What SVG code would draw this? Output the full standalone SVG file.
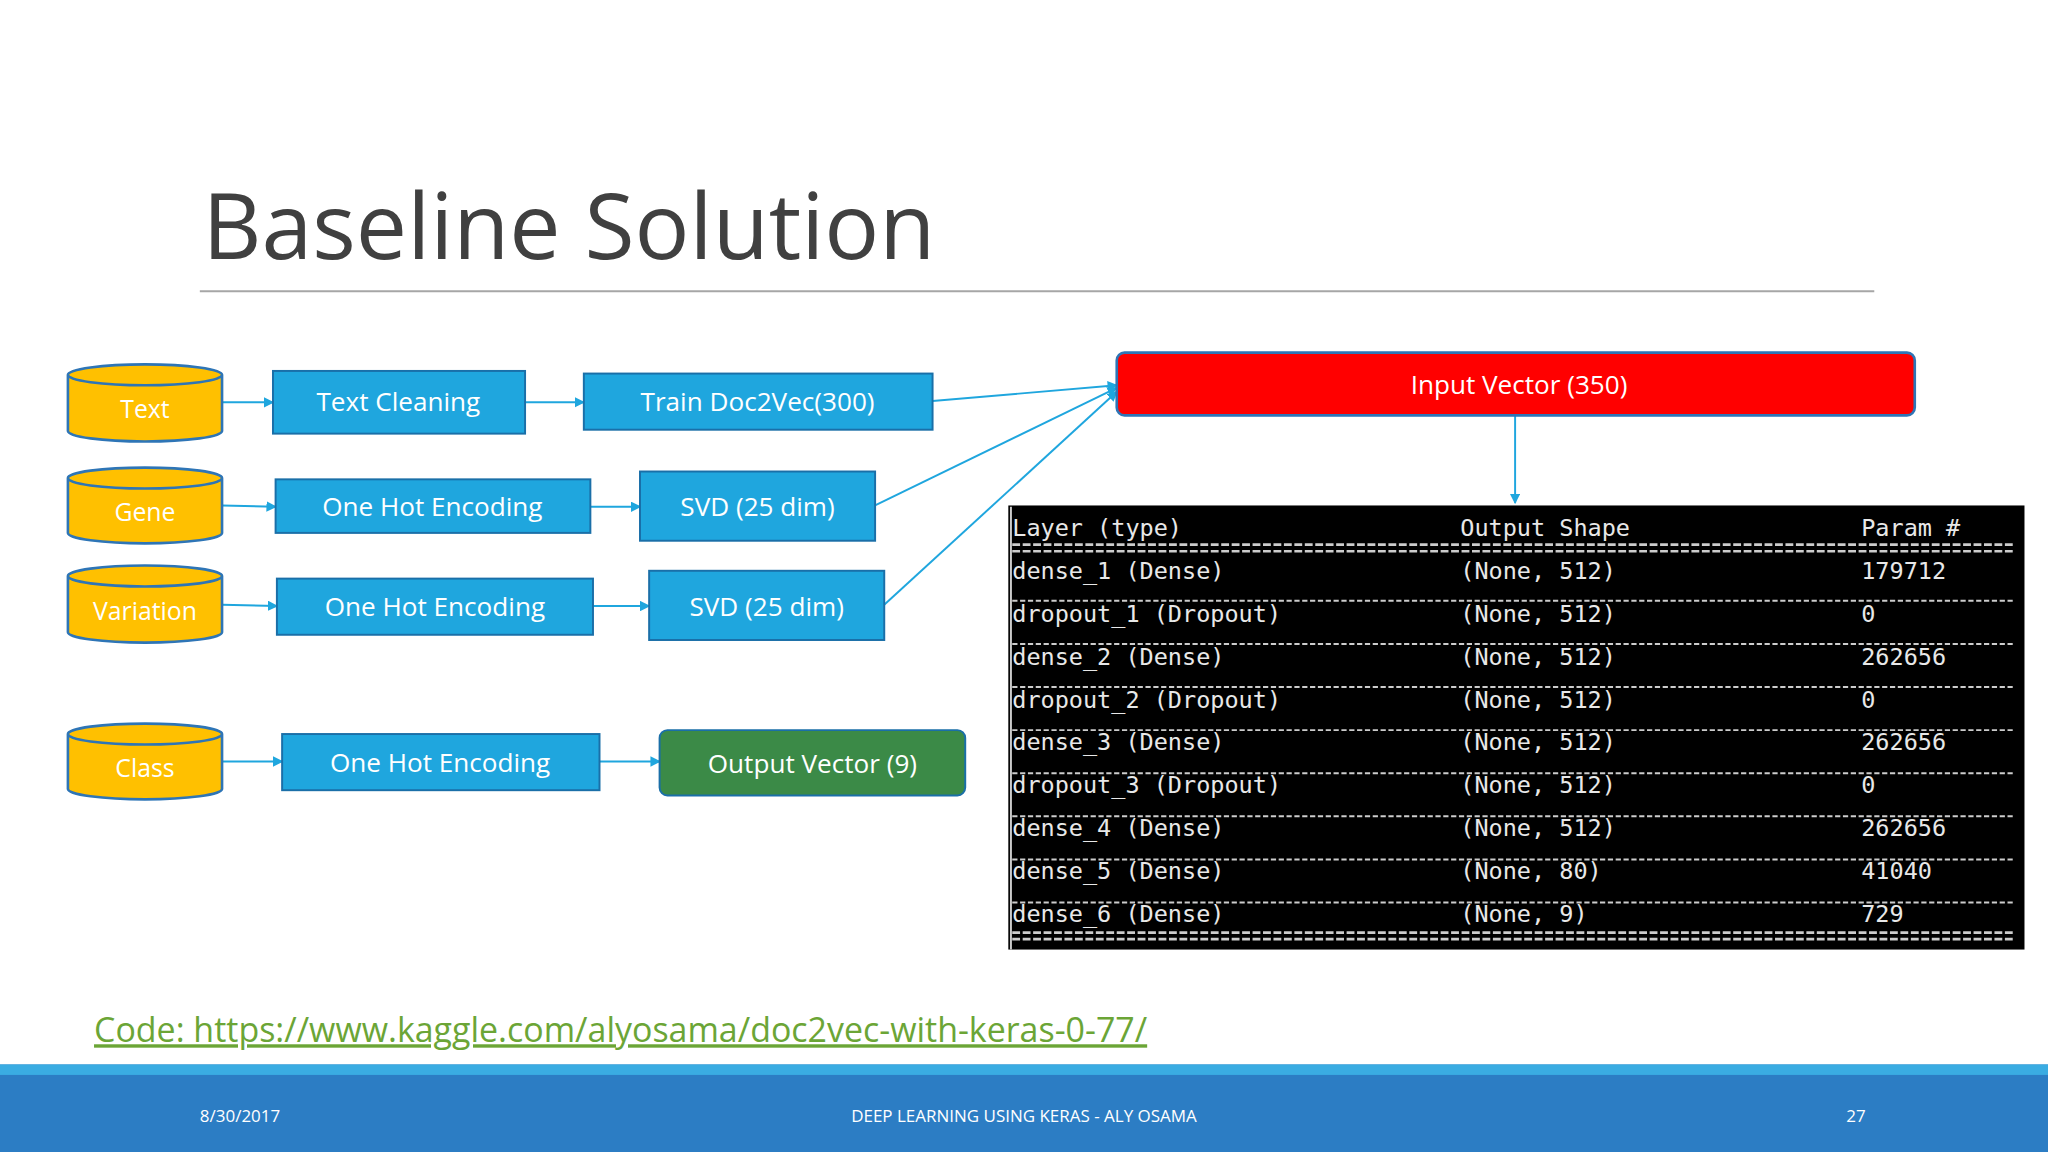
<svg xmlns="http://www.w3.org/2000/svg" width="2048" height="1152" viewBox="0 0 2048 1152">
<defs>
<marker id="ah" markerWidth="8" markerHeight="8" refX="7" refY="4" orient="auto" markerUnits="userSpaceOnUse"><path d="M0,0 L8,4 L0,8 z" fill="#1FA6DE"/></marker>
<style>
.box{fill:#1FA6DE;stroke:#1A6FA8;stroke-width:1.5}
.bt{font-family:"Open Sans","Liberation Sans",sans-serif;font-size:20px;fill:#fff;text-anchor:middle}
.cyl{fill:#FFC000;stroke:#2E75B6;stroke-width:2}
.ct{font-family:"Open Sans","Liberation Sans",sans-serif;font-size:19px;fill:#fff;text-anchor:middle}
.con{stroke:#1FA6DE;stroke-width:1.5;fill:none;marker-end:url(#ah)}
.tt{font-family:"DejaVu Sans Mono","Liberation Mono",monospace;font-size:18px;fill:#e8e8e8}
.dl{stroke:#ccc;stroke-width:1.5;stroke-dasharray:4 2}
.ft{font-family:"Open Sans","Liberation Sans",sans-serif;font-size:13px;fill:#fff}
</style>
</defs>
<rect width="2048" height="1152" fill="#fff"/>
<g transform="scale(1.30612)">
<g id="title"><text x="155" y="198" font-family="Open Sans, Liberation Sans, sans-serif" font-size="70" fill="#404040">Baseline Solution</text>
<line x1="153" y1="223" x2="1435" y2="223" stroke="#a6a6a6" stroke-width="1.5"/></g>
<g id="connectors">
<line class="con" x1="170" y1="308" x2="209" y2="308"/>
<line class="con" x1="402" y1="308" x2="447" y2="308"/>
<line class="con" x1="714" y1="307" x2="855" y2="295"/>
<line class="con" x1="170" y1="387" x2="211" y2="388"/>
<line class="con" x1="452" y1="388" x2="490" y2="388"/>
<line class="con" x1="670" y1="387" x2="855" y2="297"/>
<line class="con" x1="170" y1="463" x2="212" y2="464"/>
<line class="con" x1="454" y1="464" x2="497" y2="464"/>
<line class="con" x1="677" y1="463" x2="855" y2="300"/>
<line class="con" x1="170" y1="583" x2="216" y2="583"/>
<line class="con" x1="459" y1="583" x2="505" y2="583"/>
<line class="con" x1="1160" y1="318" x2="1160" y2="385"/>
</g>
<g id="text"><path class="cyl" d="M52,287 v43 a59,8 0 0 0 118,0 v-43 a59,8 0 0 0 -118,0 a59,8 0 0 0 118,0"/><text class="ct" x="111" y="320">Text</text></g>
<g id="gene"><path class="cyl" d="M52,366 v42 a59,8 0 0 0 118,0 v-42 a59,8 0 0 0 -118,0 a59,8 0 0 0 118,0"/><text class="ct" x="111" y="399">Gene</text></g>
<g id="variation"><path class="cyl" d="M52,441 v43 a59,8 0 0 0 118,0 v-43 a59,8 0 0 0 -118,0 a59,8 0 0 0 118,0"/><text class="ct" x="111" y="475">Variation</text></g>
<g id="class"><path class="cyl" d="M52,562 v42 a59,8 0 0 0 118,0 v-42 a59,8 0 0 0 -118,0 a59,8 0 0 0 118,0"/><text class="ct" x="111" y="595">Class</text></g>
<g id="textcleaning"><rect class="box" x="209" y="284" width="193" height="48"/><text class="bt" x="305" y="315">Text Cleaning</text></g>
<g id="doc2vec"><rect class="box" x="447" y="286" width="267" height="43"/><text class="bt" x="580" y="315">Train Doc2Vec(300)</text></g>
<g id="ohe1"><rect class="box" x="211" y="367" width="241" height="41"/><text class="bt" x="331" y="395">One Hot Encoding</text></g>
<g id="svd1"><rect class="box" x="490" y="361" width="180" height="53"/><text class="bt" x="580" y="395">SVD (25 dim)</text></g>
<g id="ohe2"><rect class="box" x="212" y="443" width="242" height="43"/><text class="bt" x="333" y="472">One Hot Encoding</text></g>
<g id="svd2"><rect class="box" x="497" y="437" width="180" height="53"/><text class="bt" x="587" y="472">SVD (25 dim)</text></g>
<g id="ohe3"><rect class="box" x="216" y="562" width="243" height="43"/><text class="bt" x="337" y="591">One Hot Encoding</text></g>
<g id="output"><rect x="505" y="559" width="234" height="50" rx="6" fill="#3B8A47" stroke="#1A6FA8" stroke-width="1.5"/><text class="bt" x="622" y="592">Output Vector (9)</text></g>
<g id="input"><rect x="855" y="270" width="611" height="48" rx="6" fill="#FF0000" stroke="#2E75B6" stroke-width="2"/><text class="bt" x="1163" y="302">Input Vector (350)</text></g>
<g id="table">
<rect x="772" y="387" width="778" height="340" fill="#000"/>
<line x1="774" y1="388" x2="774" y2="727" stroke="#ccc" stroke-width="1.5"/>
<text class="tt" x="775" y="410">Layer (type)</text><text class="tt" x="1118" y="410">Output Shape</text><text class="tt" x="1425" y="410">Param #</text>
<line x1="775" y1="417" x2="1543" y2="417" stroke="#ccc" stroke-width="2" stroke-dasharray="6 2"/>
<line x1="775" y1="422" x2="1543" y2="422" stroke="#ccc" stroke-width="2" stroke-dasharray="6 2"/>
<text class="tt" x="775" y="443">dense_1 (Dense)</text><text class="tt" x="1118" y="443">(None, 512)</text><text class="tt" x="1425" y="443">179712</text>
<line class="dl" x1="775" y1="460" x2="1543" y2="460"/>
<text class="tt" x="775" y="476">dropout_1 (Dropout)</text><text class="tt" x="1118" y="476">(None, 512)</text><text class="tt" x="1425" y="476">0</text>
<line class="dl" x1="775" y1="493" x2="1543" y2="493"/>
<text class="tt" x="775" y="509">dense_2 (Dense)</text><text class="tt" x="1118" y="509">(None, 512)</text><text class="tt" x="1425" y="509">262656</text>
<line class="dl" x1="775" y1="526" x2="1543" y2="526"/>
<text class="tt" x="775" y="542">dropout_2 (Dropout)</text><text class="tt" x="1118" y="542">(None, 512)</text><text class="tt" x="1425" y="542">0</text>
<line class="dl" x1="775" y1="559" x2="1543" y2="559"/>
<text class="tt" x="775" y="574">dense_3 (Dense)</text><text class="tt" x="1118" y="574">(None, 512)</text><text class="tt" x="1425" y="574">262656</text>
<line class="dl" x1="775" y1="592" x2="1543" y2="592"/>
<text class="tt" x="775" y="607">dropout_3 (Dropout)</text><text class="tt" x="1118" y="607">(None, 512)</text><text class="tt" x="1425" y="607">0</text>
<line class="dl" x1="775" y1="625" x2="1543" y2="625"/>
<text class="tt" x="775" y="640">dense_4 (Dense)</text><text class="tt" x="1118" y="640">(None, 512)</text><text class="tt" x="1425" y="640">262656</text>
<line class="dl" x1="775" y1="658" x2="1543" y2="658"/>
<text class="tt" x="775" y="673">dense_5 (Dense)</text><text class="tt" x="1118" y="673">(None, 80)</text><text class="tt" x="1425" y="673">41040</text>
<line class="dl" x1="775" y1="691" x2="1543" y2="691"/>
<text class="tt" x="775" y="706">dense_6 (Dense)</text><text class="tt" x="1118" y="706">(None, 9)</text><text class="tt" x="1425" y="706">729</text>
<line x1="775" y1="714" x2="1543" y2="714" stroke="#ccc" stroke-width="2" stroke-dasharray="6 2"/>
<line x1="775" y1="719" x2="1543" y2="719" stroke="#ccc" stroke-width="2" stroke-dasharray="6 2"/>
</g>
<g id="link"><text x="72" y="798" font-family="Open Sans, Liberation Sans, sans-serif" font-size="26" fill="#6BA536" text-decoration="underline">Code: https://www.kaggle.com/alyosama/doc2vec-with-keras-0-77/</text></g>
<g id="footer">
<rect x="0" y="815" width="1568" height="67" fill="#2C7DC4"/>
<rect x="0" y="815" width="1568" height="8" fill="#3AACE2"/>
<text class="ft" x="153" y="859">8/30/2017</text>
<text class="ft" x="784" y="859" text-anchor="middle">DEEP LEARNING USING KERAS - ALY OSAMA</text>
<text class="ft" x="1421" y="859" text-anchor="middle" font-size="14">27</text>
</g>
</g>
</svg>
